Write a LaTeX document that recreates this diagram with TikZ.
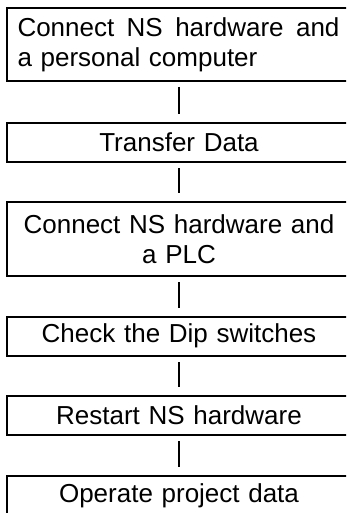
\documentclass[tikz,border=0pt]{standalone}
\usepackage{fontspec}
\setmainfont{Liberation Sans}
\usepackage{tikz}
\usetikzlibrary{positioning}

\tikzset{
    stepbox/.style={draw, line width=2pt, minimum width=344pt, inner xsep=10.5pt, inner ysep=2pt,
        text width=323pt, align=center, font=\fontsize{26}{30}\selectfont},
    link/.style={line width=1.3pt, shorten <=5pt, shorten >=8pt}
}

\begin{document}
\begin{tikzpicture}[x=1pt, y=1pt]
    % page frame: the boxes run past the right and bottom edge
    \useasboundingbox (0, 0) rectangle (346, -513);
    \clip (0, 0) rectangle (346, -513);

    % steps
    \node[stepbox, align=left, minimum height=73pt] (connpc) at (179, -44.5)
        {\hbox to 322pt{Connect \hfil NS \hfil hardware \hfil and}\\a personal computer};
    \node[stepbox, minimum height=39pt] (transfer) at (179, -142.5) {Transfer Data};
    \node[stepbox, minimum height=74pt] (connplc) at (179, -239)
        {Connect NS hardware and\\a PLC};
    \node[stepbox, minimum height=39.5pt] (dipsw) at (179, -336.25) {Check the Dip switches};
    \node[stepbox, minimum height=39.6pt] (restart) at (179, -415.5) {Restart NS hardware};
    \node[stepbox, minimum height=39.5pt] (operate) at (179, -496) {Operate project data};

    % short ticks between the steps
    \draw[link] (connpc) -- (transfer);
    \draw[link] (transfer) -- (connplc);
    \draw[link] (connplc) -- (dipsw);
    \draw[link] (dipsw) -- (restart);
    \draw[link] (restart) -- (operate);
\end{tikzpicture}
\end{document}
